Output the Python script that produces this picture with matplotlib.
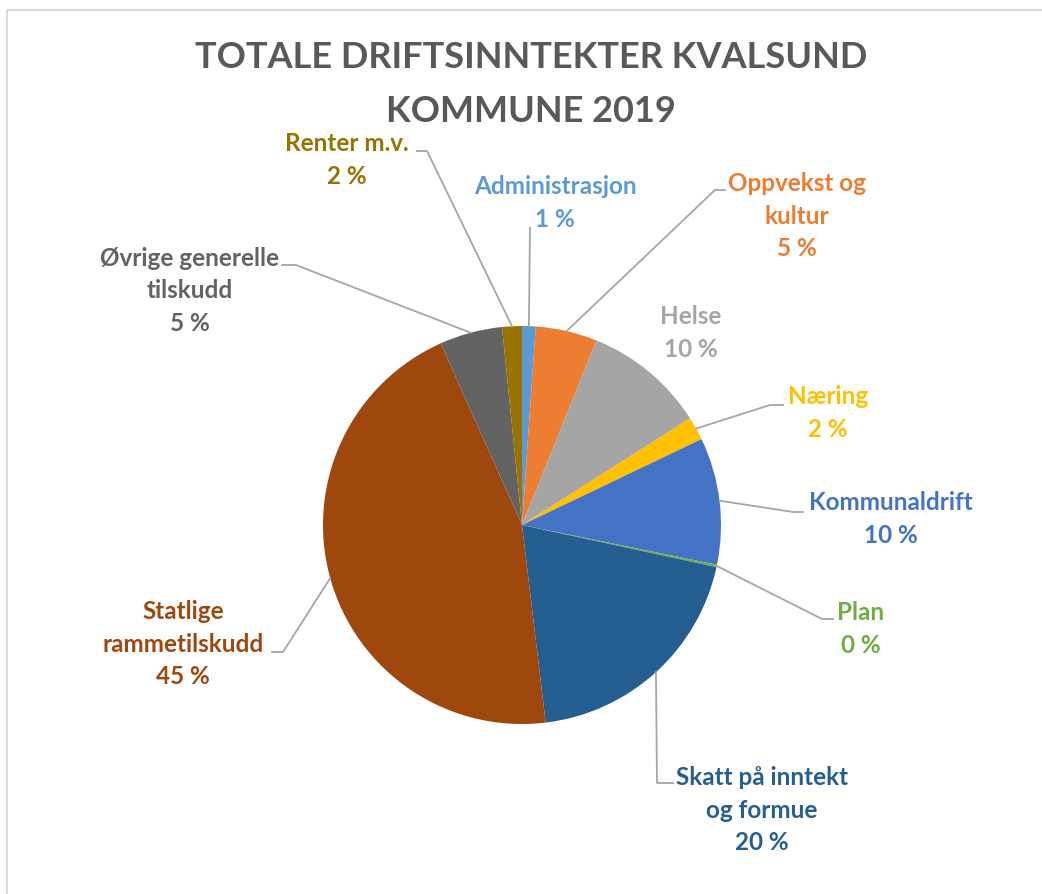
import numpy as np
import matplotlib.pyplot as plt

# data (share of total operating income, %)
labels = ['Administrasjon', 'Oppvekst og\nkultur', 'Helse', 'Næring', 'Kommunaldrift',
          'Plan', 'Skatt på inntekt\nog formue', 'Statlige\nrammetilskudd',
          'Øvrige generelle\ntilskudd', 'Renter m.v.']
values = [1.1, 5.0, 9.9, 1.9, 10.3, 0.2, 19.7, 45.2, 5.1, 1.6]
pct_text = ['1 %', '5 %', '10 %', '2 %', '10 %', '0 %', '20 %', '45 %', '5 %', '2 %']
colors = ['#5B9BD5', '#ED7D31', '#A5A5A5', '#FFC000', '#4472C4',
          '#70AD47', '#255E91', '#9E480E', '#636363', '#997300']

# label layout in pixel coords (text centre, leader elbow, leader end)
text_pos = [(555, 203), (797, 216), (691, 333), (828, 413), (891, 519),
            (861, 629), (762, 810), (183, 644), (190, 291), (347, 160)]
elbows = [None, (715, 190), None, (770, 405), (793, 512),
          (822, 619), (657, 783), (283, 652), (296, 265), (427, 151)]
ends = [(530, 228), (725, 190), None, (783, 405), (803, 512),
        (833, 619), (673, 783), (272, 652), (282, 265), (417, 151)]

plt.rcParams['font.family'] = ['Lato', 'DejaVu Sans']

fig = plt.figure(figsize=(10.42, 8.94), dpi=100)
ax = fig.add_axes([0, 0, 1, 1])
center = (522, 525)
radius = 199
wedges, _ = ax.pie(values, colors=colors, startangle=-90, counterclock=True,
                   center=center, radius=radius, frame=True,
                   wedgeprops=dict(linewidth=0))
ax.set_xlim(0, 1042)
ax.set_ylim(894, 0)
ax.set_aspect('equal')
ax.axis('off')

# chart border (top and left visible)
ax.plot([7, 7, 1042], [894, 10, 10], color='#D9D9D9', lw=1.5, clip_on=False)

ax.text(531, 58, 'TOTALE DRIFTSINNTEKTER KVALSUND', ha='center', va='center',
        fontsize=26, fontweight='bold', color='#595959')
ax.text(531, 111, 'KOMMUNE 2019', ha='center', va='center',
        fontsize=26, fontweight='bold', color='#595959')

for w, lab, pct, col, tp, el, en in zip(wedges, labels, pct_text, colors, text_pos, elbows, ends):
    ang = np.deg2rad((w.theta1 + w.theta2) / 2)
    ax_pt = (center[0] + radius * np.cos(ang), center[1] + radius * np.sin(ang))
    if en is not None:
        pts = [ax_pt] + ([el] if el is not None else []) + [en]
        ax.plot([p[0] for p in pts], [p[1] for p in pts], color='#A6A6A6', lw=1.3)
    ax.text(tp[0], tp[1], lab + '\n' + pct, ha='center', va='center',
            fontsize=17.5, fontweight='bold', color=col, linespacing=1.48)

fig.savefig('out.png', dpi=100, facecolor='white')
